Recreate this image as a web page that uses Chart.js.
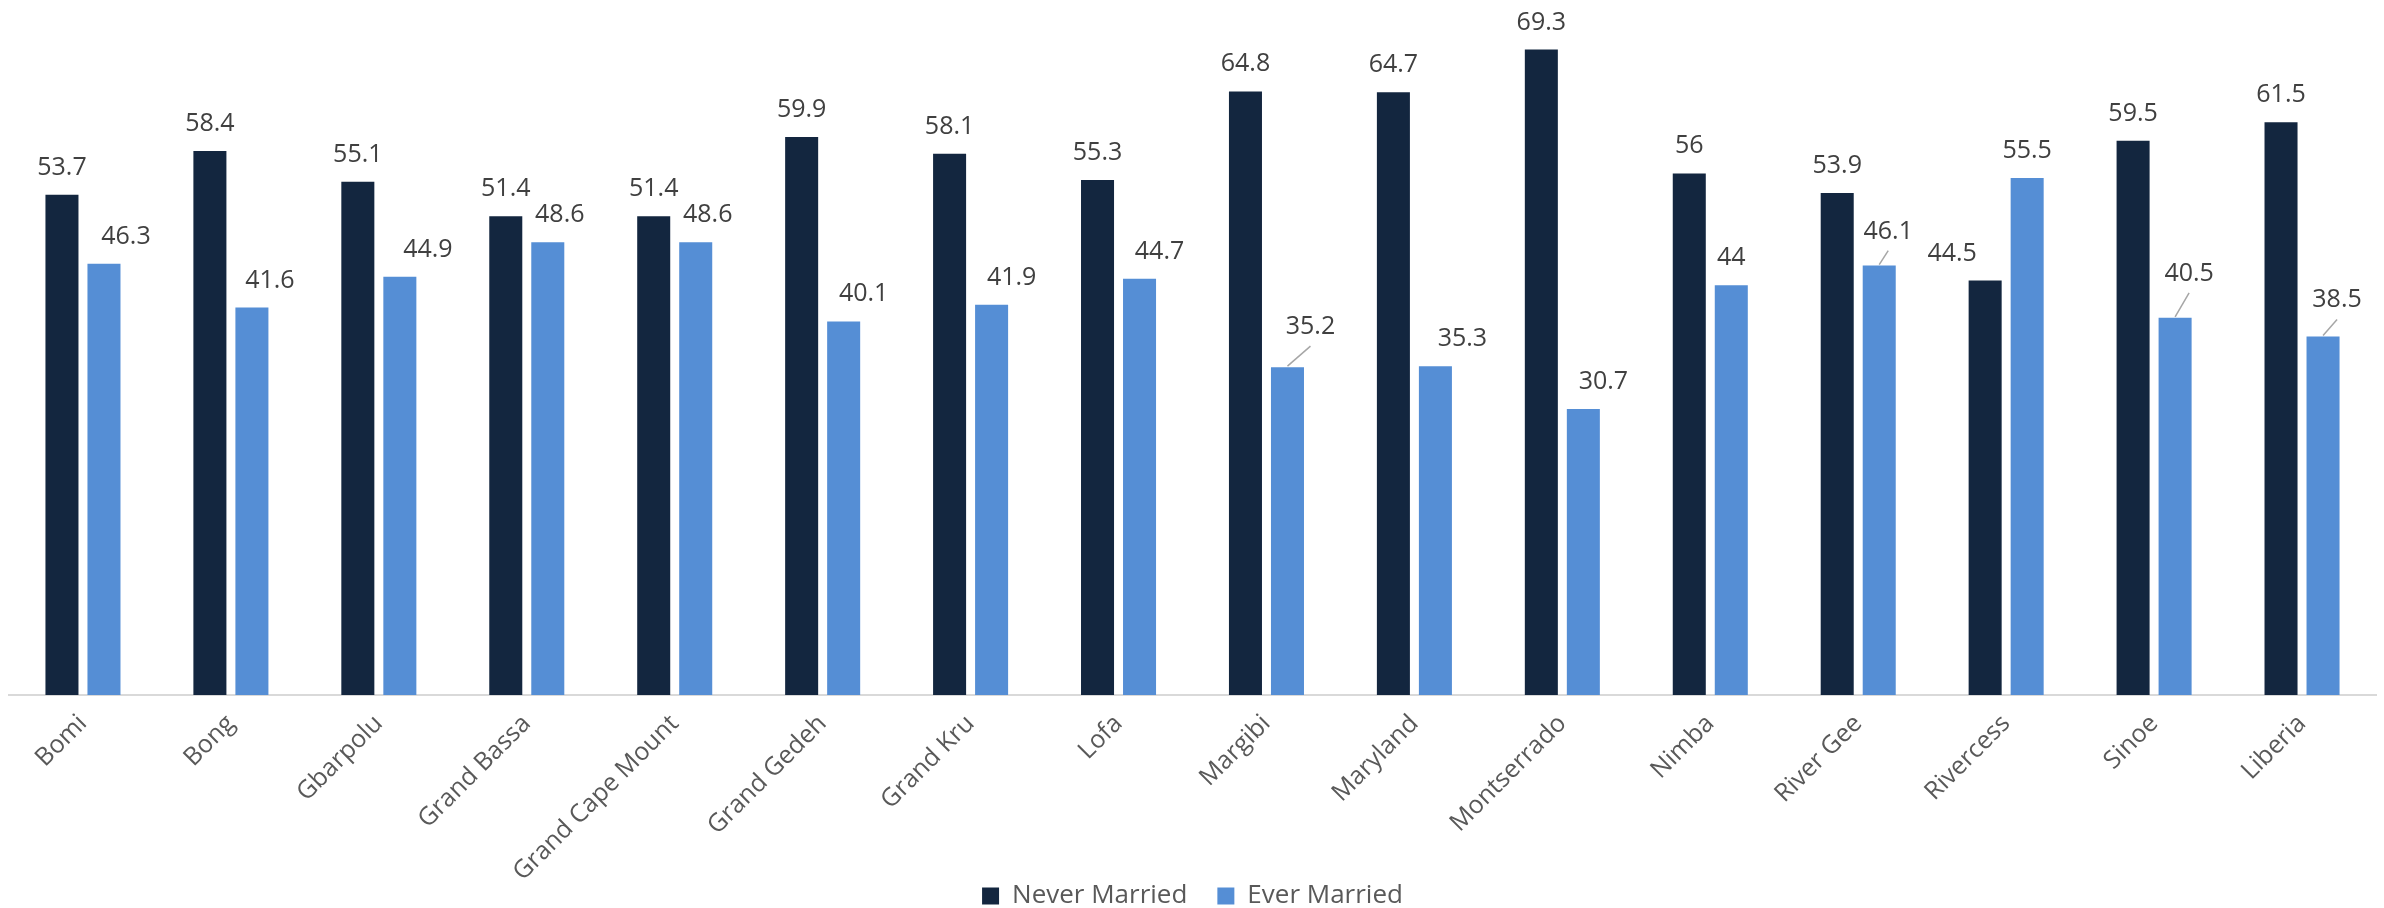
<!DOCTYPE html>
<html>
<head>
<meta charset="utf-8">
<script src="https://cdn.jsdelivr.net/npm/chart.js@4.4.0/dist/chart.umd.min.js"></script>
<style>
  html, body { margin: 0; padding: 0; background: #fff; }
  #wrap { width: 2384px; height: 908px; }
</style>
</head>
<body>
<div id="wrap"><canvas id="grafica"></canvas></div>
<script>
const counties = ['Bomi', 'Bong', 'Gbarpolu', 'Grand Bassa', 'Grand Cape Mount', 'Grand Gedeh',
    'Grand Kru', 'Lofa', 'Margibi', 'Maryland', 'Montserrado', 'Nimba', 'River Gee',
    'Rivercess', 'Sinoe', 'Liberia'];
const neverMarried = [53.7, 58.4, 55.1, 51.4, 51.4, 59.9, 58.1, 55.3, 64.8, 64.7, 69.3, 56, 53.9, 44.5, 59.5, 61.5];
const everMarried = [46.3, 41.6, 44.9, 48.6, 48.6, 40.1, 41.9, 44.7, 35.2, 35.3, 30.7, 44, 46.1, 55.5, 40.5, 38.5];

// hand-moved labels in the original: [shift right, extra lift] in px
const neverNudge = counties.map((c) => c === 'Rivercess' ? [-33, 0] : [0, 0]);
const everNudge = [[22, 0], [18, 0], [28, 0], [12, 0], [12, 0], [20, 0], [20, 0], [20, 0],
    [23, 13], [27, 0], [20, 0], [0, 0], [9, 7], [0, 0], [14, 17], [14, 9]];
const everLeader = ['Margibi', 'River Gee', 'Sinoe', 'Liberia'];

const FONT = "'Open Sans', 'DejaVu Sans', sans-serif";

const valueLabels = {
    id: 'valueLabels',
    afterDatasetsDraw(chart) {
        const ctx = chart.ctx;
        ctx.save();
        ctx.font = '25px ' + FONT;
        ctx.fillStyle = '#404040';
        ctx.textAlign = 'center';
        ctx.textBaseline = 'alphabetic';
        chart.data.datasets.forEach((ds, di) => {
            const nudge = di === 0 ? neverNudge : everNudge;
            chart.getDatasetMeta(di).data.forEach((bar, i) => {
                const [dx, up] = nudge[i];
                const tx = bar.x + dx;
                const ty = bar.y - 20 - up;
                if (di === 1 && everLeader.includes(counties[i])) {
                    ctx.strokeStyle = '#a6a6a6';
                    ctx.lineWidth = 1.5;
                    ctx.beginPath();
                    ctx.moveTo(bar.x, bar.y - 1);
                    ctx.lineTo(tx, ty + 12);
                    ctx.stroke();
                }
                ctx.fillText(String(ds.data[i]), tx, ty);
            });
        });
        ctx.restore();
    }
};

new Chart(document.getElementById('grafica'), {
    type: 'bar',
    data: {
        labels: counties,
        datasets: [
            {
                label: 'Never Married',
                data: neverMarried,
                backgroundColor: '#13263f',
                categoryPercentage: 0.568,
                barPercentage: 0.786
            },
            {
                label: 'Ever Married',
                data: everMarried,
                backgroundColor: '#558ed5',
                categoryPercentage: 0.568,
                barPercentage: 0.786
            }
        ]
    },
    options: {
        responsive: true,
        maintainAspectRatio: false,
        animation: false,
        layout: { padding: { left: 9, right: 8, top: 43, bottom: -11 } },
        scales: {
            x: {
                grid: { display: false, drawTicks: false },
                border: { display: true, color: '#d9d9d9', width: 2 },
                ticks: {
                    color: '#595959',
                    font: { family: FONT, size: 25 },
                    minRotation: 45,
                    maxRotation: 45,
                    padding: 14
                },
                afterFit(scale) {
                    scale.height = 158;
                    // long names run down past the axis box, as in the original
                    scale._computeLabelArea = () => undefined;
                }
            },
            y: {
                display: false,
                min: 0,
                max: 70
            }
        },
        plugins: {
            legend: {
                position: 'bottom',
                labels: {
                    color: '#595959',
                    font: { family: FONT, size: 26 },
                    boxWidth: 17,
                    boxHeight: 17,
                    padding: 30
                }
            },
            tooltip: { enabled: false }
        }
    },
    plugins: [valueLabels]
});
</script>
</body>
</html>
